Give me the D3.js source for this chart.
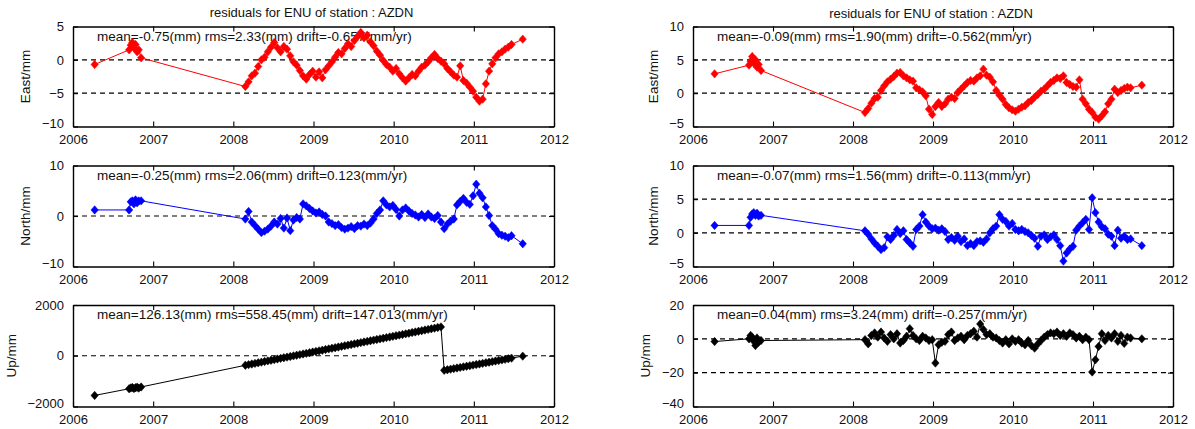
<!DOCTYPE html>
<html><head><meta charset="utf-8">
<script src="https://cdn.jsdelivr.net/npm/d3@7"></script>
<style>
body{margin:0;background:#fff;}
svg text{font-family:"Liberation Sans",Arial,Helvetica,sans-serif;fill:#111;}
</style></head><body>
<svg id="chart" width="1195" height="429"></svg>
<script>
// Observation epochs (decimal years), shared by every component
const epochs = [
  2006.27, 2006.70, 2006.72, 2006.74, 2006.76, 2006.78, 2006.80, 2006.82, 2006.85,
  2008.15, 2008.19, 2008.23, 2008.27, 2008.31, 2008.35, 2008.39, 2008.43, 2008.47, 2008.51,
  2008.55, 2008.59, 2008.63, 2008.67, 2008.71, 2008.75, 2008.79, 2008.83, 2008.87, 2008.91,
  2008.95, 2008.99, 2009.03, 2009.07, 2009.11, 2009.15, 2009.19, 2009.23, 2009.27, 2009.31,
  2009.35, 2009.39, 2009.43, 2009.47, 2009.51, 2009.55, 2009.59, 2009.63, 2009.67, 2009.71,
  2009.75, 2009.79, 2009.83, 2009.87, 2009.91, 2009.95, 2009.99, 2010.03, 2010.07, 2010.11,
  2010.15, 2010.19, 2010.23, 2010.27, 2010.31, 2010.35, 2010.39, 2010.43, 2010.47, 2010.51,
  2010.55, 2010.59, 2010.63, 2010.67, 2010.71, 2010.75, 2010.79, 2010.83, 2010.87, 2010.91,
  2010.95, 2010.99, 2011.03, 2011.07, 2011.11, 2011.15, 2011.19, 2011.23, 2011.27, 2011.31,
  2011.35, 2011.39, 2011.43, 2011.47, 2011.61
];

// Solution A residuals (mm)
const eastA = [
  -0.7, 1.5, 2.2, 2.6, 1.8, 2.3, 1.2, 1.5, 0.3,
  -4.0, -3.3, -2.4, -2.0, -1.0, 0.0, 0.4, 1.2, 1.9, 2.6,
  1.8, 1.2, 2.0, 1.6, 0.6, -0.3, -0.8, -1.6, -2.4, -2.9,
  -2.2, -1.7, -2.6, -1.8, -2.7, -1.5, -0.9, -0.3, 0.4, 1.1,
  0.9, 1.7, 2.4, 2.0, 2.9, 3.5, 4.1, 3.3, 3.7, 2.7,
  2.1, 1.3, 0.7, -0.1, -0.7, -1.1, -1.7, -1.3, -2.1, -2.7,
  -3.2, -2.7, -2.2, -2.4, -1.7, -1.1, -0.8, -0.3, 0.3, 0.8,
  0.2, -0.2, -0.6, -1.3, -1.8, -2.3, -2.6, -0.9, -3.1, -3.5,
  -4.1, -4.7, -5.6, -6.2, -5.9, -3.6, -1.7, -0.6, 0.3, 0.9,
  1.2, 1.6, 1.9, 2.3, 3.1
];
const northA = [
  1.2, 1.2, 2.8, 3.0, 2.4, 3.2, 2.6, 3.0, 3.0,
  -0.6, 0.9, -1.2, -1.9, -2.6, -3.3, -3.0, -2.6, -2.0, -1.2,
  -1.6, -0.5, -2.4, -0.4, -2.9, -0.8, -0.3, -0.6, 2.4, 2.0,
  1.5, 1.0, 0.6, 0.8, 0.3, 0.0, -1.2, -1.5, -1.9, -1.7,
  -2.3, -2.6, -2.4, -2.1, -2.5, -1.9, -2.0, -1.6, -1.9, -1.4,
  -0.6, 0.5, 1.2, 3.0, 2.2, 1.8, 2.1, 1.3, 0.0, 1.2,
  1.6, 1.0, 0.5, 0.2, -0.2, 0.3, -0.3, 0.4, -0.2, -0.5,
  0.1, -1.2, -2.5, -1.6, -1.0, -0.6, 2.2, 2.9, 3.5, 2.7,
  2.3, 4.0, 6.3, 4.5, 3.6, 1.8, 0.1, -1.9, -2.6, -3.5,
  -3.8, -4.0, -4.3, -3.9, -5.5
];
const upA = [
  -1564, -1300, -1270, -1250, -1290, -1260, -1240, -1275, -1230,
  -376, -351, -326, -302, -277, -252, -227, -202, -178, -153,
  -128, -103, -78, -54, -29, -4, 21, 46, 70, 95,
  120, 145, 170, 194, 219, 244, 269, 294, 318, 343,
  368, 393, 418, 442, 467, 492, 517, 542, 566, 591,
  616, 641, 666, 690, 715, 740, 765, 790, 814, 839,
  864, 889, 914, 938, 963, 988, 1013, 1038, 1062, 1087,
  1112, 1137, -574, -551, -528, -506, -483, -460, -437, -414,
  -392, -369, -346, -323, -300, -278, -255, -232, -209, -186,
  -164, -141, -118, -95, -15
];

// Solution B residuals (mm)
const eastB = [
  2.9, 4.2, 4.8, 5.5, 4.5, 5.0, 3.9, 4.3, 3.4,
  -2.9, -2.3, -1.5, -0.8, -0.6, 0.4, 1.1, 1.7, 2.1, 2.5,
  3.0, 3.1, 2.6, 2.3, 2.0, 1.8, 0.8, 0.5, 0.2, -0.4,
  -2.4, -3.2, -2.0, -1.4, -2.0, -1.6, -0.9, -0.6, -0.8, 0.1,
  0.6, 1.1, 1.6, 1.9, 1.8, 2.3, 2.6, 3.6, 2.7, 2.4,
  1.7, 0.4, -0.3, -0.9, -1.7, -2.2, -2.5, -2.7, -2.4, -2.1,
  -1.9, -1.4, -1.1, -0.6, -0.2, 0.3, 0.6, 1.1, 1.6, 1.9,
  2.3, 2.2, 2.6, 1.6, 1.3, 1.0, 0.9, 2.0, -0.9, -1.6,
  -2.4, -2.9, -3.6, -3.9, -3.4, -2.8, -1.6, -0.9, 0.6, 0.1,
  0.4, 0.7, 0.9, 0.8, 1.2
];
const northB = [
  1.1, 1.1, 2.3, 2.8, 3.0, 2.6, 2.9, 2.5, 2.6,
  0.3, -0.2, -0.9, -1.5, -2.0, -2.5, -2.2, -0.6, -1.0, -0.4,
  0.5, -0.1, 0.3, -1.0, -1.5, -2.0, 0.5, 1.0, 2.7, 1.6,
  1.0, 0.6, 0.7, 0.4, 0.6, 0.2, -1.0, -0.7, -1.1, -0.5,
  -1.3, -0.9, -1.9, -1.6, -1.9, -1.3, -1.2, -1.4, -0.9, 0.0,
  0.6, 1.0, 2.7, 2.0, 1.7, 1.0, 1.4, 0.5, 0.3, 0.5,
  0.2, 0.0, -0.4, -0.8, -2.0, -0.5, -0.3, -1.0, -0.6, -0.3,
  -1.0, -1.9, -4.2, -3.0, -2.4, -2.0, 0.4, 1.0, 1.5, 2.0,
  0.5, 5.2, 3.0, 1.6, 0.9, 0.6, -0.2, -0.5, -1.9, 0.4,
  -0.8, -0.5, -1.0, -0.9, -1.9
];
const upB = [
  -1.6, 0.0, 2.0, 1.0, -1.5, -4.0, 0.5, -2.0, -1.0,
  -0.5, -3.0, 2.0, 3.5, 1.0, 4.0, 0.5, -1.5, 2.5, 0.0,
  3.0, -2.5, -1.0, 1.5, 6.0, 2.0, 0.0, -1.0, 1.5, 0.5,
  -1.0, -0.5, -14.3, -3.5, -2.0, -1.5, 2.5, 4.0, -1.0, 0.5,
  1.5, -0.5, 2.0, 3.0, 4.5, 1.0, 8.8, 5.5, 2.5, 3.0,
  1.0, 0.5, -1.0, -2.5, -0.5, -3.0, 0.0, -1.5, -0.5, -2.5,
  -3.5, -1.0, -4.0, -5.5, -3.0, -1.0, 1.0, 2.5, 3.5, 3.0,
  4.0, 2.0, 3.0, 1.5, 3.5, 2.5, 0.5, 1.5, -0.5, 1.0,
  -0.5, -19.6, -12.4, -4.5, 3.0, -1.0, 2.0, 0.5, 3.0, -1.5,
  2.0, -2.7, 1.0, 0.5, 0.0
];

// Axis ticks
const yearTicks = [2006, 2007, 2008, 2009, 2010, 2011, 2012];
const eastTicksA = [-10, -5, 0, 5];
const northTicksA = [-10, 0, 10];
const upTicksA = [-2000, 0, 2000];
const eastTicksB = [-5, 0, 5, 10];
const northTicksB = [-5, 0, 5, 10];
const upTicksB = [-40, -20, 0, 20];

// Labels
const titleText = "residuals for ENU of station : AZDN";
const axisNames = ["East/mm", "North/mm", "Up/mm"];
const statsA = [
  "mean=-0.75(mm) rms=2.33(mm) drift=-0.657(mm/yr)",
  "mean=-0.25(mm) rms=2.06(mm) drift=0.123(mm/yr)",
  "mean=126.13(mm) rms=558.45(mm) drift=147.013(mm/yr)"
];
const statsB = [
  "mean=-0.09(mm) rms=1.90(mm) drift=-0.562(mm/yr)",
  "mean=-0.07(mm) rms=1.56(mm) drift=-0.113(mm/yr)",
  "mean=0.04(mm) rms=3.24(mm) drift=-0.257(mm/yr)"
];
const colours = ["#ff0000", "#0000ff", "#000000"];

const svg = d3.select("#chart");
const columns = [
  {x0: 73, x1: 554, values: [eastA, northA, upA], ticks: [eastTicksA, northTicksA, upTicksA], stats: statsA},
  {x0: 693, x1: 1173, values: [eastB, northB, upB], ticks: [eastTicksB, northTicksB, upTicksB], stats: statsB}
];
const rows = [[26.5, 126.5], [165.5, 266.5], [305, 406.5]];
const diamond = "M0,-4.2L3.7,0L0,4.2L-3.7,0Z";

columns.forEach((col, ci) => {
  const x = d3.scaleLinear().domain([2006, 2012]).range([col.x0, col.x1]);
  rows.forEach((r, ri) => {
    const ticks = col.ticks[ri];
    const y = d3.scaleLinear().domain(d3.extent(ticks)).range([r[1], r[0]]);
    const g = svg.append("g");
    const colour = colours[ri];

    // dashed grid at interior ticks
    g.selectAll("line.grid").data(ticks.slice(1, -1)).join("line")
      .attr("x1", col.x0).attr("x2", col.x1)
      .attr("y1", d => y(d)).attr("y2", d => y(d))
      .attr("stroke", "#000").attr("stroke-width", 1.1)
      .attr("stroke-dasharray", "5,4");

    // statistics line
    g.append("text").attr("x", col.x0 + 24).attr("y", r[0] + 14)
      .attr("font-size", 13.5).text(col.stats[ri]);

    const pts = epochs.map((t, i) => [t, col.values[ri][i]]);
    g.append("path").datum(pts)
      .attr("fill", "none").attr("stroke", colour).attr("stroke-width", 1)
      .attr("d", d3.line().x(d => x(d[0])).y(d => y(d[1])));
    g.selectAll("path.mk").data(pts).join("path")
      .attr("transform", d => `translate(${x(d[0])},${y(d[1])})`)
      .attr("d", diamond).attr("fill", colour).attr("stroke", colour).attr("stroke-width", 0.5);

    // frame with inward ticks
    const xAxisB = d3.axisBottom(x).tickValues(yearTicks).tickFormat(d3.format("d")).tickSizeInner(-5).tickSizeOuter(0).tickPadding(8);
    const xAxisT = d3.axisTop(x).tickValues(yearTicks).tickFormat("").tickSizeInner(-5).tickSizeOuter(0);
    const yAxisL = d3.axisLeft(y).tickValues(ticks).tickFormat(d3.format("d")).tickSizeInner(-5).tickSizeOuter(0).tickPadding(9);
    const yAxisR = d3.axisRight(y).tickValues(ticks).tickFormat("").tickSizeInner(-5).tickSizeOuter(0);
    const styleAxis = a => {
      a.selectAll("path.domain").attr("stroke", "#000").attr("stroke-width", 1.4);
      a.selectAll(".tick line").attr("stroke", "#000").attr("stroke-width", 1.1);
      a.selectAll(".tick text").attr("font-size", 13).attr("fill", "#111")
        .style("font-family", '"Liberation Sans",Arial,sans-serif');
    };
    g.append("g").attr("transform", `translate(0,${r[1]})`).call(xAxisB).call(styleAxis);
    g.append("g").attr("transform", `translate(0,${r[0]})`).call(xAxisT).call(styleAxis);
    const yl = g.append("g").attr("transform", `translate(${col.x0},0)`).call(yAxisL).call(styleAxis);
    g.append("g").attr("transform", `translate(${col.x1},0)`).call(yAxisR).call(styleAxis);
    // the lowest y label sits just above the year labels
    yl.selectAll(".tick text").filter(d => d === ticks[0]).attr("dy", "0.1em");

    // y axis name placed left of the tick labels
    const bb = yl.node().getBBox();
    const lx = col.x0 + bb.x - 16;
    const ly = (r[0] + r[1]) / 2;
    g.append("text").attr("transform", `translate(${lx},${ly}) rotate(-90)`)
      .attr("text-anchor", "middle").attr("dominant-baseline", "central")
      .attr("font-size", 13.5).text(axisNames[ri]);

    if (ri === 0) {
      svg.append("text").attr("x", (col.x0 + col.x1) / 2 - 2).attr("y", ci === 0 ? 16.5 : 17.5)
        .attr("text-anchor", "middle").attr("font-size", 13).text(titleText);
    }
  });
});
</script>
</body></html>
